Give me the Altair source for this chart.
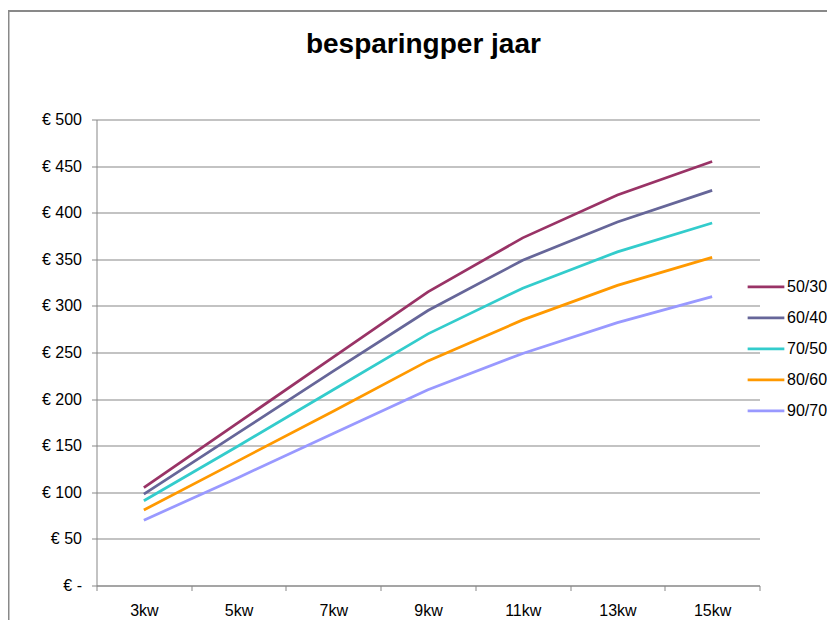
import altair as alt
import pandas as pd

# ---- data ----
categories = ["3kw", "5kw", "7kw", "9kw", "11kw", "13kw", "15kw"]
series_names = ["50/30", "60/40", "70/50", "80/60", "90/70"]
s_50_30 = [105, 175, 245, 315, 373, 419, 455]
s_60_40 = [98, 164, 230, 295, 349, 390, 424]
s_70_50 = [91, 150, 210, 270, 319, 358, 389]
s_80_60 = [81, 134, 187, 241, 285, 322, 352]
s_90_70 = [70, 116, 163, 210, 249, 282, 310]
series_colors = ["#993366", "#666699", "#33CCCC", "#FF9900", "#9999FF"]
y_ticks = [0, 50, 100, 150, 200, 250, 300, 350, 400, 450, 500]
title_text = "besparingper jaar"

rows = []
for name, vals in zip(series_names, [s_50_30, s_60_40, s_70_50, s_80_60, s_90_70]):
    for c, v in zip(categories, vals):
        rows.append({"capaciteit": c, "serie": name, "besparing": v})
df = pd.DataFrame(rows)

GRAY = "#878787"
FONT = "Liberation Sans"
W, H = 663, 466

# chart-area border (Excel style)
frame = alt.Chart(alt.Data(values=[{"f": 1}])).mark_rect(
    fill=None, stroke="#898989", strokeWidth=2
).encode(
    x=alt.value(-88), x2=alt.value(760), y=alt.value(-108.5), y2=alt.value(520)
)

# chart title
title = alt.Chart(alt.Data(values=[{"t": title_text}])).mark_text(
    font=FONT, fontSize=28, fontWeight="bold", color="black",
    align="center", baseline="alphabetic",
).encode(
    text="t:N", x=alt.value(326.9), y=alt.value(-66.2)
)

lines = alt.Chart(df).mark_line(strokeWidth=2.75).encode(
    x=alt.X(
        "capaciteit:N",
        sort=categories,
        bandPosition=0.5,
        scale=alt.Scale(type="band", paddingInner=0, paddingOuter=0),
        axis=alt.Axis(
            title=None, grid=False, tickBand="extent", labelAngle=0,
            domainColor=GRAY, domainWidth=1, tickColor=GRAY, tickSize=5, tickWidth=1,
            labelFont=FONT, labelFontSize=16, labelColor="black", labelPadding=12,
        ),
    ),
    y=alt.Y(
        "besparing:Q",
        scale=alt.Scale(domain=[0, 500], nice=False, zero=True),
        axis=alt.Axis(
            title=None, values=y_ticks,
            labelExpr="datum.value == 0 ? '€ -' : '€ ' + datum.value",
            grid=True, gridColor=GRAY, gridWidth=1, gridOpacity=1,
            domainColor=GRAY, domainWidth=1, tickColor=GRAY, tickSize=5, tickWidth=1,
            labelFont=FONT, labelFontSize=16, labelColor="black", labelPadding=10,
        ),
    ),
    color=alt.Color(
        "serie:N",
        scale=alt.Scale(domain=series_names, range=series_colors),
        legend=alt.Legend(
            title=None, orient="none", legendX=657.5, legendY=155.3,
            symbolType="M-1.8,0H1.8", symbolSize=416, symbolStrokeWidth=2.75,
            labelFont=FONT, labelFontSize=16, labelColor="black", labelOffset=9,
            rowPadding=11, padding=0,
        ),
    ),
)

chart = alt.layer(frame, title, lines).properties(
    width=W, height=H,
    autosize=alt.AutoSizeParams(type="none"),
    padding={"left": 88.5, "top": 111.5, "right": 67.5, "bottom": 34},
    background="white",
).configure_view(stroke=None)

chart.save("out.html", embed_options={"renderer": "svg", "actions": False})
